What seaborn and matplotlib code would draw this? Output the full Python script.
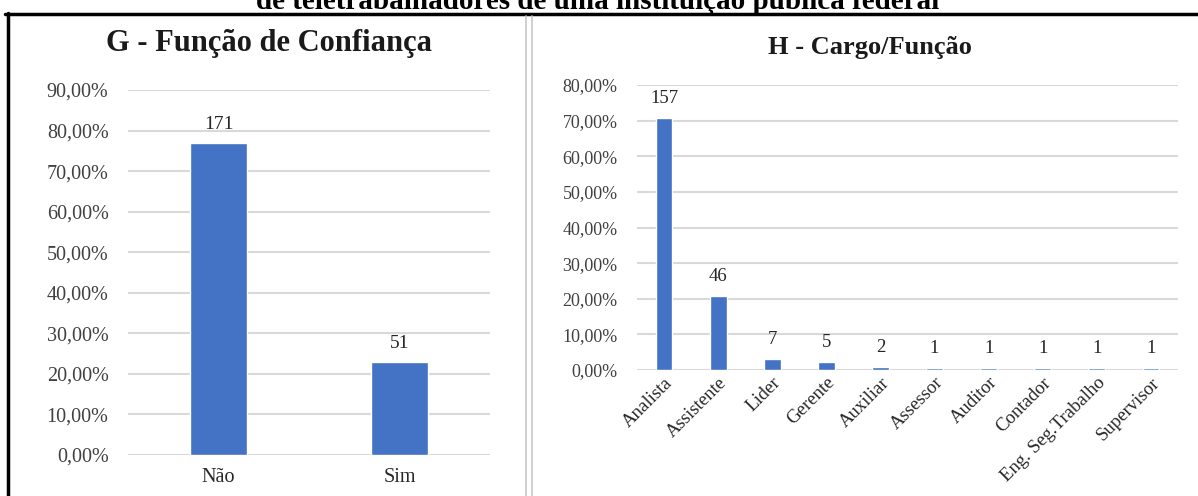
import numpy as np
import matplotlib
matplotlib.use("Agg")
import matplotlib.pyplot as plt
import seaborn as sns
from matplotlib.lines import Line2D
from matplotlib.ticker import FuncFormatter

# ==========================================
# Data
# ==========================================
g_categories = ["Não", "Sim"]
g_counts = [171, 51]

h_categories = ["Analista", "Assistente", "Lider", "Gerente", "Auxiliar",
                "Assessor", "Auditor", "Contador", "Eng. Seg.Trabalho", "Supervisor"]
h_counts = [157, 46, 7, 5, 2, 1, 1, 1, 1, 1]

g_ticks = [0, 10, 20, 30, 40, 50, 60, 70, 80, 90]
h_ticks = [0, 10, 20, 30, 40, 50, 60, 70, 80]

BAR_COLOR = "#4472C4"
GRID_COLOR = "#d9d9d9"
W, H = 1198, 496

sns.set_theme(style="white")
plt.rcParams["font.family"] = ["Liberation Serif", "DejaVu Serif"]

fig = plt.figure(figsize=(W / 100, H / 100), dpi=100)


def px_axes(x0, x1, y_top, y_bot):
    return fig.add_axes([x0 / W, 1 - y_bot / H, (x1 - x0) / W, (y_bot - y_top) / H])


def pct_fmt(v, _):
    return f"{v:.2f}%".replace(".", ",")


def style_axis(ax, ticks, tick_size):
    ax.set_ylim(0, ticks[-1])
    ax.set_yticks(ticks)
    ax.yaxis.set_major_formatter(FuncFormatter(pct_fmt))
    ax.yaxis.grid(True, color=GRID_COLOR, lw=1.5)
    ax.set_axisbelow(True)
    for s in ax.spines.values():
        s.set_visible(False)
    ax.tick_params(axis="y", length=0, pad=14, labelsize=tick_size, colors="#404040")
    ax.tick_params(axis="x", length=0)
    ax.set_xlabel("")
    ax.set_ylabel("")


# ==========================================
# G - Função de Confiança
# ==========================================
g_pct = np.array(g_counts) / sum(g_counts) * 100
ax1 = px_axes(128, 490, 90, 455)
sns.barplot(x=g_categories, y=g_pct, color=BAR_COLOR, width=0.31, saturation=1, ax=ax1)
style_axis(ax1, g_ticks, 14.5)
ax1.tick_params(axis="x", pad=9, labelsize=14.5, colors="#262626")
ax1.bar_label(ax1.containers[0], labels=[str(c) for c in g_counts], padding=7,
              fontsize=14, color="#262626")
ax1.set_title("G - Função de Confiança", fontsize=22, fontweight="bold",
              color="#1a1a1a", x=0.39, pad=28)

# ==========================================
# H - Cargo/Função
# ==========================================
h_pct = np.array(h_counts) / sum(h_counts) * 100
ax2 = px_axes(637, 1178, 85, 370)
sns.barplot(x=h_categories, y=h_pct, color=BAR_COLOR, width=0.31, saturation=1, ax=ax2)
style_axis(ax2, h_ticks, 13)
ax2.tick_params(axis="x", pad=3, labelsize=13.5, colors="#262626")
for lab in ax2.get_xticklabels():
    lab.set_rotation(45)
    lab.set_ha("right")
    lab.set_rotation_mode("anchor")
ax2.bar_label(ax2.containers[0], labels=[str(c) for c in h_counts], padding=8,
              fontsize=13.5, color="#262626")
ax2.set_title("H - Cargo/Função", fontsize=19, fontweight="bold",
              color="#1a1a1a", x=0.43, pad=22)

# ==========================================
# Page frame and clipped caption
# ==========================================
def hline(y, x0, x1, color, lw):
    fig.add_artist(Line2D([x0 / W, x1 / W], [1 - y / H, 1 - y / H], color=color, lw=lw))


def vline(x, y0, y1, color, lw):
    fig.add_artist(Line2D([x / W, x / W], [1 - y0 / H, 1 - y1 / H], color=color, lw=lw))


hline(14, 5, W, "black", 2.5)
vline(7.5, 13, H, "black", 2.5)
vline(526, 16, H, "#c8c8c8", 1.2)
vline(532, 16, H, "#c8c8c8", 1.2)

fig.text(598 / W, 1 - 9 / H, "de teletrabalhadores de uma instituição pública federal",
         ha="center", va="baseline", fontsize=21, fontweight="bold", color="black")

fig.savefig("out.png", dpi=100)
